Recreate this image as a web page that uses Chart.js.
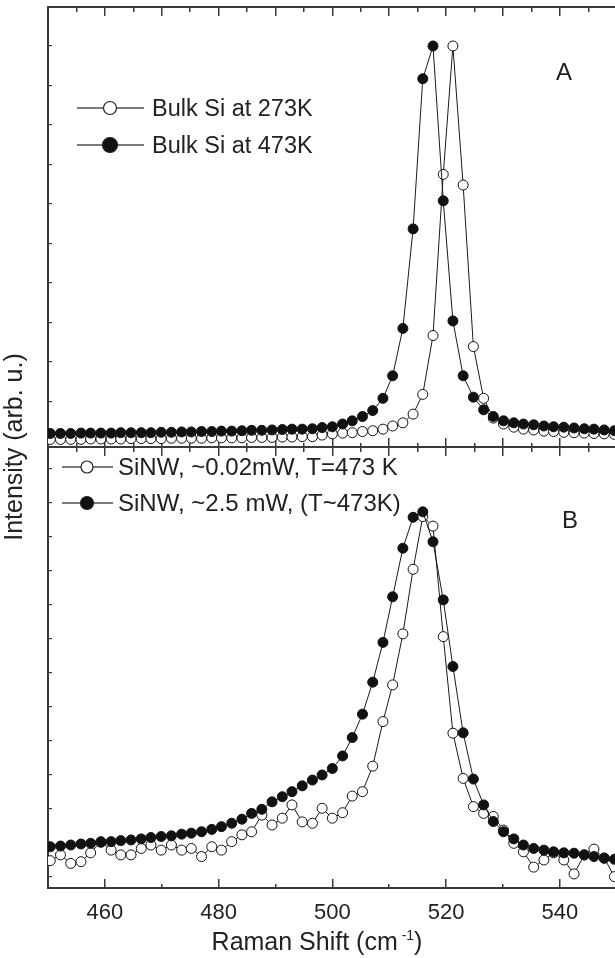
<!DOCTYPE html>
<html>
<head>
<meta charset="utf-8">
<script src="https://cdn.jsdelivr.net/npm/chart.js@4.4.1/dist/chart.umd.min.js"></script>
<style>
html,body{margin:0;padding:0;background:#fff;}
#wrap{position:relative;width:615px;height:958px;overflow:hidden;font-family:"Liberation Sans",Arial,Helvetica,sans-serif;color:#222;}
canvas{position:absolute;left:0;}
#cA{top:0;}
#cB{top:440px;}
#sym{position:absolute;left:0;top:0;}
.txt{position:absolute;white-space:nowrap;height:24px;line-height:24px;}
#ytitle{position:absolute;left:-137px;top:434px;width:300px;height:26px;line-height:26px;text-align:center;font-size:25px;transform:rotate(-90deg);white-space:nowrap;}
#xtitle{position:absolute;left:117px;top:927px;width:400px;height:28px;line-height:28px;text-align:center;font-size:25px;white-space:nowrap;}
#xtitle sup{font-size:14px;vertical-align:10px;line-height:0;}
</style>
</head>
<body>
<div id="wrap">
  <canvas id="cA" width="615" height="460"></canvas>
  <canvas id="cB" width="615" height="518"></canvas>
  <svg id="sym" width="615" height="958" xmlns="http://www.w3.org/2000/svg">
    <g stroke="#222" stroke-width="1.2">
      <line x1="77" y1="108" x2="103" y2="108"/>
      <line x1="117" y1="108" x2="144" y2="108"/>
      <circle cx="110" cy="108" r="6.5" fill="#fff"/>
      <line x1="77" y1="145" x2="103" y2="145"/>
      <line x1="117" y1="145" x2="144" y2="145"/>
      <circle cx="110" cy="145" r="7.5" fill="#111"/>
      <line x1="62" y1="467" x2="81" y2="467"/>
      <line x1="93" y1="467" x2="113" y2="467"/>
      <circle cx="87" cy="467" r="6" fill="#fff"/>
      <line x1="62" y1="503" x2="81" y2="503"/>
      <line x1="93" y1="503" x2="113" y2="503"/>
      <circle cx="87" cy="503" r="6.5" fill="#111"/>
    </g>
  </svg>
  <div class="txt" style="left:152px;top:96px;font-size:23.5px;">Bulk Si at 273K</div>
  <div class="txt" style="left:152px;top:133px;font-size:23.5px;">Bulk Si at 473K</div>
  <div class="txt" style="left:118px;top:455px;font-size:24px;">SiNW, ~0.02mW, T=473 K</div>
  <div class="txt" style="left:118px;top:491px;font-size:24px;">SiNW, ~2.5 mW, (T~473K)</div>
  <div class="txt" style="left:556px;top:60px;font-size:24px;">A</div>
  <div class="txt" style="left:562px;top:508px;font-size:24px;">B</div>
  <div id="ytitle">Intensity (arb. u.)</div>
  <div id="xtitle">Raman Shift (cm<sup> -1</sup>)</div>
</div>
<script>
// Raman shift (cm-1) of each measured point
const ramanShift = [450.4,452.2,454.0,455.8,457.5,459.3,461.1,462.8,464.6,466.4,468.1,469.9,471.7,473.5,475.2,477.0,478.8,480.5,482.3,484.1,485.8,487.6,489.4,491.2,492.9,494.7,496.5,498.2,500.0,501.8,503.5,505.3,507.1,508.9,510.6,512.4,514.2,515.9,517.7,519.5,521.2,523.0,524.8,526.6,528.3,530.1,531.9,533.6,535.4,537.2,538.9,540.7,542.5,544.3,546.0,547.8,549.6];

// Panel A : bulk Si
const bulk273 = [.004,.004,.004,.004,.005,.005,.005,.005,.006,
  .006,.006,.006,.007,.007,.007,.007,.008,.008,
  .008,.008,.009,.009,.009,.010,.010,
  .011,.011,.015,.018,.020,.021,.024,.026,.030,.038,.046,.068,.118,
  .267,
  .675,1.000,.648,.239,.108,.058,.043,.035,.030,.028,.025,.024,.022,.021,.020,.019,.018,.017];
const bulk473 = [.019,.019,.019,.020,.020,.020,.020,.021,.021,
  .021,.021,.022,.022,.023,.023,.024,.024,.025,
  .025,.026,.027,.027,.028,.029,.030,
  .030,.031,.034,.036,.043,.051,.062,.077,.108,.165,.285,.537,.917,
  1.000,
  .608,.304,.165,.111,.079,.062,.051,.046,.043,.041,.038,.036,.035,.033,.031,.030,.028,.026];

// Panel B : Si nanowires
const sinwLow = [.048,.065,.040,.045,.071,.104,.079,.065,.065,
  .084,.094,.079,.094,.079,.084,.060,.089,.079,
  .104,.124,.133,.182,.153,.173,.212,
  .162,.158,.202,.173,.189,.238,.251,.326,.457,.565,.715,.905,1.060,
  1.032,
  .707,.423,.290,.207,.187,.178,.138,.099,.074,.029,.050,.071,.050,.009,.065,.082,.056,.001];
const sinwHigh = [.089,.091,.094,.097,.099,.102,.104,.107,.109,
  .112,.116,.119,.121,.126,.129,.133,.140,.148,
  .158,.170,.187,.199,.221,.236,.251,
  .268,.285,.300,.319,.356,.410,.479,.573,.690,.824,.967,1.058,1.074,
  .986,
  .815,.619,.424,.288,.212,.163,.133,.112,.094,.084,.079,.074,.071,.070,.065,.060,.055,.052];

const xTickLabels = [460, 480, 500, 520, 540];
const seriesNames = ['Bulk Si at 273K','Bulk Si at 473K','SiNW, ~0.02mW, T=473 K','SiNW, ~2.5 mW, (T~473K)'];

const FONT = '"Liberation Sans", Arial, Helvetica, sans-serif';
const AX = '#3a3a3a';
const X_MIN = 450, X_MAX = 549.7;

function pts(arr){ return ramanShift.map((x,i)=>({x:x, y:arr[i]})); }

function openSet(label, arr){
  return {label, data: pts(arr), borderColor:'#1a1a1a', borderWidth:1, tension:0,
    pointRadius:5, pointBorderWidth:1, pointBorderColor:'#111', pointBackgroundColor:'#fff', order:2};
}
function fillSet(label, arr){
  return {label, data: pts(arr), borderColor:'#1a1a1a', borderWidth:1, tension:0,
    pointRadius:5, pointBorderWidth:1, pointBorderColor:'#111', pointBackgroundColor:'#111', order:1};
}

function xAxis(pos, size, step, majorEvery, labels){
  const minorDash = pos === 'top' ? [0,4,12,100] : [5,100];
  return {
    type:'linear', position:pos, min:X_MIN, max:X_MAX,
    afterFit: s => { s.height = size; },
    border:{display:true, color:AX, width:2},
    grid:{drawOnChartArea:false, drawTicks:true, tickLength:-9, color:AX, lineWidth:1.5,
      tickBorderDash: c => (c.tick && Math.round(c.tick.value) % majorEvery === 0) ? [] : minorDash},
    ticks: labels ? {display:true, stepSize:step, includeBounds:false, autoSkip:false, maxRotation:0,
        padding:21, color:'#222', font:{family:FONT, size:22},
        callback: v => xTickLabels.includes(Math.round(v)) ? String(Math.round(v)) : ''}
      : {display:false, stepSize:step, includeBounds:false, autoSkip:false}
  };
}
function yAxis(min, max){
  return {type:'linear', position:'left', min, max,
    afterFit: s => { s.width = 48; },
    border:{display:true, color:AX, width:2},
    grid:{drawOnChartArea:false, tickLength:-4, color:AX, lineWidth:1.2},
    ticks:{display:false, stepSize:0.1, includeBounds:false}};
}
const common = {responsive:false, maintainAspectRatio:false, animation:false, devicePixelRatio:1, events:[],
  layout:{padding:0, autoPadding:false},
  plugins:{legend:{display:false}, tooltip:{enabled:false}}};

new Chart(document.getElementById('cA'), {
  type:'line',
  data:{datasets:[openSet(seriesNames[0], bulk273), fillSet(seriesNames[1], bulk473)]},
  options:Object.assign({}, common, {
    scales:{
      x: xAxis('bottom', 13, 5, 10, false),
      x2: xAxis('top', 7, 5, 10, false),
      y: yAxis(-0.0152, 1.0987)
    }
  })
});

new Chart(document.getElementById('cB'), {
  type:'line',
  data:{datasets:[openSet(seriesNames[2], sinwLow), fillSet(seriesNames[3], sinwHigh)]},
  options:Object.assign({}, common, {
    scales:{
      x: xAxis('bottom', 70, 10, 20, true),
      x2: xAxis('top', 7, 5, 10, false),
      y: yAxis(-0.0324, 1.2647)
    }
  })
});
</script>
</body>
</html>
